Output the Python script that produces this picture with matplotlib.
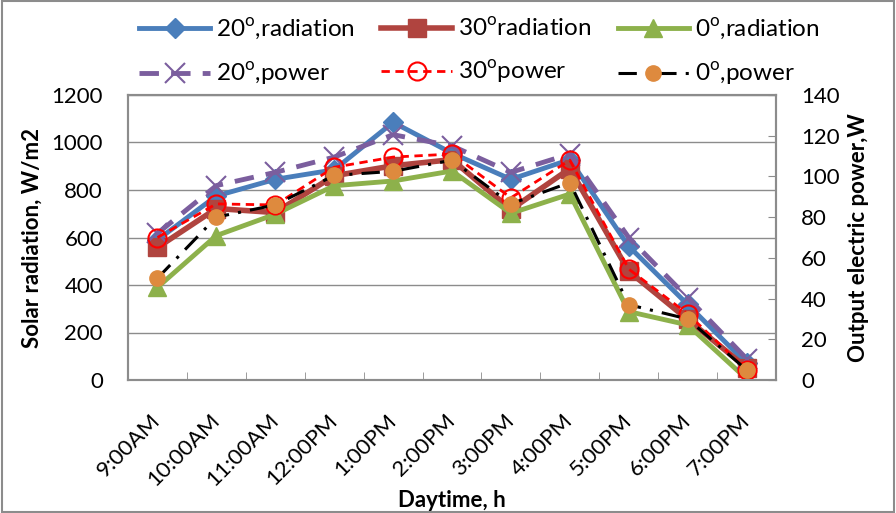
import matplotlib.pyplot as plt

# Hours of the day on the x axis
times = ['9:00AM', '10:00AM', '11:00AM', '12:00PM', '1:00PM', '2:00PM',
         '3:00PM', '4:00PM', '5:00PM', '6:00PM', '7:00PM']

# Solar radiation, W/m2 (left axis)
rad_20 = [590, 775, 845, 885, 1085, 955, 845, 928, 563, 318, 70]
rad_30 = [558, 722, 705, 860, 902, 928, 718, 890, 458, 255, 52]
rad_0 = [390, 608, 698, 818, 838, 880, 702, 783, 288, 232, 5]

# Output electric power, W (right axis)
pow_20 = [72, 95.5, 102, 109.5, 120.5, 115, 102, 111, 70, 40.5, 10.5]
pow_30 = [70, 86.5, 86, 104.5, 109.5, 111, 89.5, 108, 54.5, 32.5, 5]
pow_0 = [50, 80, 86, 100.5, 102.5, 108, 86.5, 97, 37, 30, 5]

plt.rcParams['font.family'] = ['Lato', 'DejaVu Sans']
plt.rcParams['mathtext.fontset'] = 'custom'
plt.rcParams['mathtext.rm'] = 'Lato'

fig = plt.figure(figsize=(8.96, 5.13), dpi=100)
ax = fig.add_axes([128 / 896, 1 - 380 / 513, 648 / 896, 285 / 513])
ax2 = ax.twinx()

x = list(range(len(times)))

l1, = ax.plot(x, rad_20, color='#4A7EBB', lw=3.5, marker='D', ms=10, label='20$^{\\mathrm{o}}$,radiation')
l2, = ax.plot(x, rad_30, color='#B0443F', lw=4.0, marker='s', ms=13, label='30$^{\\mathrm{o}}$radiation')
l3, = ax.plot(x, rad_0, color='#8DB14B', lw=3.5, marker='^', ms=13, label='0$^{\\mathrm{o}}$,radiation')

l4, = ax2.plot(x, pow_20, color='#7B5E9E', lw=3.5, ls=(0, (4, 2.5)), marker='x', ms=14, mew=1.5, label='20$^{\\mathrm{o}}$,power')
l5, = ax2.plot(x, pow_30, color='#FF0000', lw=2.0, ls=(0, (3, 2)), marker='o', ms=13, mfc='none', mew=1.5, label='30$^{\\mathrm{o}}$power')
l6, = ax2.plot(x, pow_0, color='black', lw=2.2, ls=(0, (6, 3, 1, 3)), marker='o', ms=11, mfc='#DE8A3E', mec='#DE8A3E', label='0$^{\\mathrm{o}}$,power')

ax.set_xlim(-0.5, len(times) - 0.5)
ax.set_ylim(0, 1200)
ax.set_yticks(range(0, 1201, 200))
ax2.set_ylim(0, 140)
ax2.set_yticks(range(0, 141, 20))

ax.grid(axis='y', color='#8C8C8C', lw=1)
ax.set_axisbelow(True)

ax.set_xticks(x)
ax.set_xticklabels(times, rotation=45, ha='right', va='center', rotation_mode='anchor', fontsize=16)
ax.set_xticks([i + 0.5 for i in range(-1, len(times))], minor=True)
ax.tick_params(axis='x', which='major', length=0, pad=27)
ax.tick_params(axis='x', which='minor', length=6, color='#8C8C8C', direction='in')
ax.tick_params(axis='y', length=0, labelsize=16, pad=18)
ax2.tick_params(axis='y', length=6, color='#8C8C8C', direction='in', labelsize=16, pad=18)

for a in (ax, ax2):
    for s in a.spines.values():
        s.set_color('#8C8C8C')
        s.set_linewidth(1.5)

ax.set_xlabel('Daytime, h', fontsize=16, fontweight='bold', labelpad=0)
ax.set_ylabel('Solar radiation, W/m2', fontsize=16, fontweight='bold', labelpad=6)
ax2.set_ylabel('Output electric power,W', fontsize=16, fontweight='bold', labelpad=6)

fig.legend([l1, l4, l2, l5, l3, l6],
           [h.get_label() for h in (l1, l4, l2, l5, l3, l6)],
           ncol=3, loc='upper center', bbox_to_anchor=(0.535, 1.01),
           frameon=False, fontsize=17.5, handlelength=2.9, labelspacing=0.75,
           columnspacing=1.1, handletextpad=0.25)

fig.patches.append(plt.Rectangle((0.002, 0.002), 0.996, 0.996, transform=fig.transFigure,
                                 fill=False, edgecolor='#8C8C8C', lw=1.5))

fig.savefig('out.png', dpi=100)
